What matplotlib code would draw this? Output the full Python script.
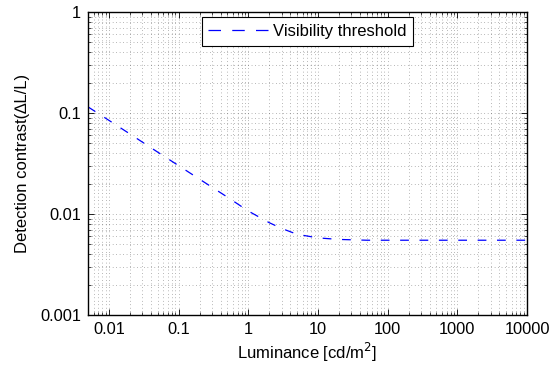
import numpy as np
import matplotlib
matplotlib.use('Agg')
from matplotlib import pyplot as plt
from matplotlib.lines import Line2D
from matplotlib.ticker import LogLocator, FixedLocator, FixedFormatter, NullFormatter

# luminance [cd/m^2] and visibility threshold (delta L / L)
luminance = [0.005, 0.01, 0.02, 0.05, 0.1, 0.2, 0.5, 1, 2, 3, 5, 10, 20, 50, 100, 1000, 10000]
threshold = [0.115, 0.0845, 0.062, 0.041, 0.0301, 0.0221, 0.0147, 0.0107, 0.0082, 0.0072,
             0.0063, 0.0058, 0.0056, 0.0055, 0.0055, 0.0055, 0.0055]

x_ticks = [0.01, 0.1, 1, 10, 100, 1000, 10000]
x_labels = ['0.01', '0.1', '1', '10', '100', '1000', '10000']
y_ticks = [0.001, 0.01, 0.1, 1]
y_labels = ['0.001', '0.01', '0.1', '1']

plt.rcParams['font.family'] = ['Liberation Sans', 'DejaVu Sans']
plt.rcParams['font.size'] = 12

fig = plt.figure(figsize=(5.51, 3.67), dpi=100)
ax = fig.add_axes([88 / 551, 1 - 315 / 367, (527 - 88) / 551, (315 - 12) / 367])

ax.loglog(luminance, threshold, color='blue', linestyle=(0, (7, 8.5)), linewidth=0.9)

ax.set_xlim(0.005, 10000)
ax.set_ylim(0.001, 1)

ax.xaxis.set_major_locator(FixedLocator(x_ticks))
ax.xaxis.set_major_formatter(FixedFormatter(x_labels))
ax.yaxis.set_major_locator(FixedLocator(y_ticks))
ax.yaxis.set_major_formatter(FixedFormatter(y_labels))
ax.xaxis.set_minor_locator(LogLocator(base=10, subs=np.arange(2, 10), numticks=20))
ax.yaxis.set_minor_locator(LogLocator(base=10, subs=np.arange(2, 10), numticks=20))
ax.xaxis.set_minor_formatter(NullFormatter())
ax.yaxis.set_minor_formatter(NullFormatter())

ax.tick_params(which='both', direction='in', top=True, right=True, labelsize=11.8)
ax.tick_params(which='major', length=4, width=0.6, pad=5)
ax.tick_params(which='minor', length=2, width=0.5)

ax.grid(True, which='both', linestyle=(0, (1, 4)), linewidth=0.5, color='black', alpha=0.55)

for sp in ax.spines.values():
    sp.set_linewidth(1.0)

ax.set_xlabel('Luminance [cd/m$^2$]', labelpad=3)
ax.set_ylabel('Detection contrast(\u2206L/L)', labelpad=7)

# legend proxy so the handle shows three whole dashes like the original
handle = Line2D([], [], color='blue', linestyle=(0, (10, 9)), linewidth=0.9)
leg = ax.legend([handle], ['Visibility threshold'], loc='upper center',
                bbox_to_anchor=(0.5, 0.982), fancybox=False,
                framealpha=1, edgecolor='black', handlelength=3.6, borderpad=0.4,
                handletextpad=0.3, borderaxespad=0)
leg.get_frame().set_linewidth(0.8)

plt.savefig('out.png', dpi=100)
